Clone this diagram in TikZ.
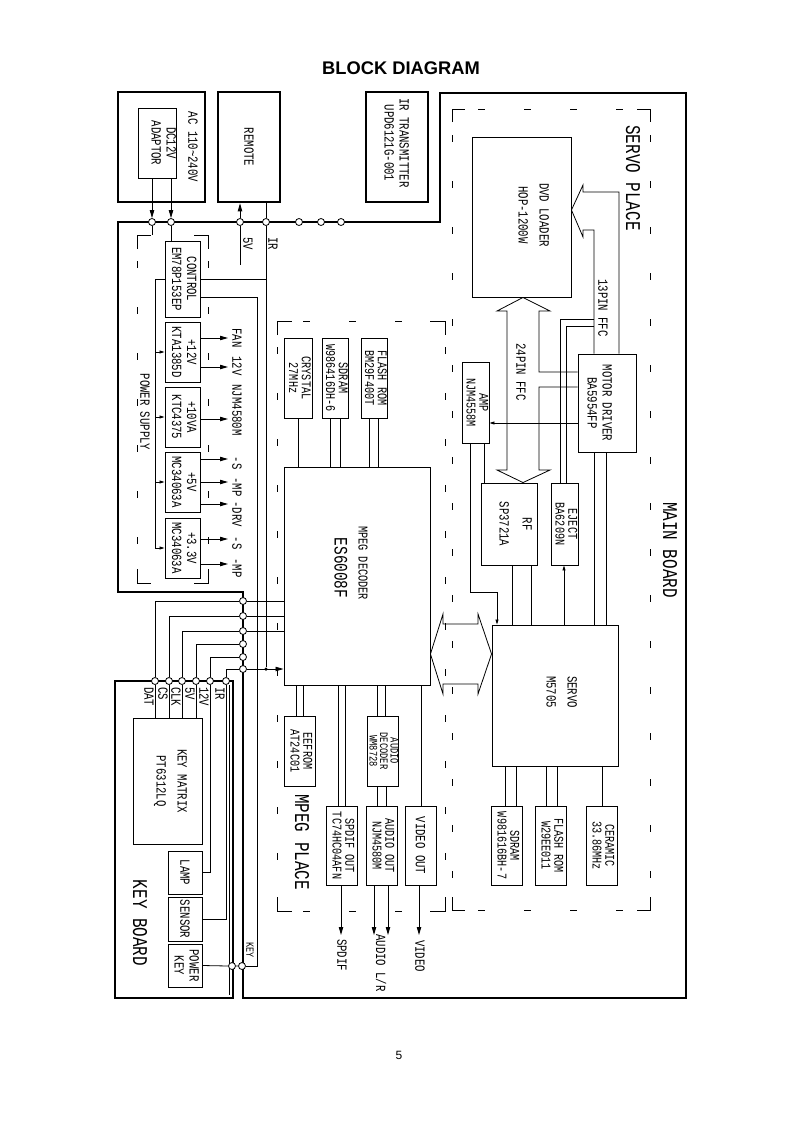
\documentclass[tikz,border=0pt]{standalone}
\usepackage{graphicx}
\usepackage{fontspec}
\setmainfont{Liberation Sans}
\newfontfamily\cad[FakeStretch=0.76]{Liberation Mono}
\usetikzlibrary{arrows.meta}
\newcommand\vtext[1]{\rotatebox{-90}{\begin{tabular}{@{}c@{}}#1\end{tabular}}}
\tikzset{
  >={Triangle[length=8pt,width=4.4pt]},
  every node/.style={font=\cad\fontsize{14}{15}\selectfont,inner sep=0pt},
  wire/.style={line width=0.8pt},
  sig/.style={wire,-{Triangle[length=5pt,width=3pt]}},
  box/.style={draw,line width=0.9pt},
  unit/.style={draw,line width=2.6pt},
  frame/.style={line width=2.8pt},
  place/.style={line width=0.9pt,dash pattern=on 7pt off 39pt,dash phase=20pt},
  jn/.style={circle,draw,fill=white,line width=0.8pt,minimum size=7pt},
  dot/.style={circle,fill,minimum size=3.5pt},
  narrow/.style={font=\cad\fontsize{13.4}{12.5}\selectfont},
  big/.style={font=\cad\fontsize{21}{22}\selectfont},
}
\begin{document}
\begin{tikzpicture}[x=1pt,y=-1pt]
  \useasboundingbox (0,0) rectangle (793,1122);
  \node[font=\bfseries\fontsize{18.3}{20}\selectfont] (title) at (401,68) {BLOCK DIAGRAM};
  \node[font=\fontsize{12}{14}\selectfont] (pageno) at (399,1055) {5};

  % board outlines
  \draw[frame] (440,93) -- (686,93) -- (686,998) -- (243,998) -- (243,592)
    -- (118,592) -- (118,222) -- (440,222) -- cycle;
  \draw[frame] (115,681) rectangle (233,998);
  \draw[wire] (229,685) -- (229,995);

  % dashed places: sides, then corner brackets
  \draw[place] (137,235) -- (137,583) (208,235) -- (208,583);
  \draw[wire] (137,249) |- (151,235) (194,235) -| (208,249)
    (137,569) |- (151,583) (194,583) -| (208,569);
  \draw[place] (277,321) -- (277,911) (445,321) -- (445,911) (277,321) -- (445,321) (277,911) -- (445,911);
  \draw[wire] (277,335) |- (292,321) (430,321) -| (445,335)
    (277,897) |- (292,911) (430,911) -| (445,897);
  \draw[place] (452,109) -- (452,910) (650,109) -- (650,910) (452,109) -- (650,109) (452,910) -- (650,910);
  \draw[wire] (452,122) |- (465,109) (637,109) -| (650,122)
    (452,897) |- (465,910) (637,910) -| (650,897);

  \node (tpower) at (145,412) {\rotatebox{-90}{POWER SUPPLY}};
  \node[big] (tmpeg) at (302,842) {\rotatebox{-90}{MPEG PLACE}};
  \node[big] (tservo) at (633,178) {\rotatebox{-90}{SERVO PLACE}};
  \node[big] (tmain) at (670,550) {\rotatebox{-90}{MAIN BOARD}};
  \node[big] (tkey) at (140,923) {\rotatebox{-90}{KEY BOARD}};

  % outside units
  \node[unit,minimum width=87pt,minimum height=110pt] (ac) at (161.5,147) {};
  \node[box,minimum width=38pt,minimum height=70pt] (adaptor) at (157,143) {};
  \node (tadaptor) at (162,143) {\vtext{DC12V\\ADAPTOR}};
  \node (tac) at (193,147) {\rotatebox{-90}{AC 110\textasciitilde240V}};
  \node[unit,minimum width=62pt,minimum height=110pt] (remote) at (249,147) {};
  \node (tremote) at (remote) {\rotatebox{-90}{REMOTE}};
  \node[unit,minimum width=62pt,minimum height=110pt] (irtx) at (397,147) {};
  \node (tirtx) at (395,143) {\vtext{IR TRANSMITTER\\UPD6121G-001}};

  % power supply
  \node[box,minimum width=35pt,minimum height=76pt] (ctrl) at (182.5,279) {};
  \node (tctrl) at (ctrl) {\vtext{CONTROL\\EM78P153EP}};
  \node[box,minimum width=35pt,minimum height=60pt] (reg12) at (182.5,352) {};
  \node (treg12) at (reg12) {\vtext{+12V\\KTA1385D}};
  \node[box,minimum width=35pt,minimum height=60pt] (reg10) at (182.5,417) {};
  \node (treg10) at (reg10) {\vtext{+10VA\\KTC4375}};
  \node[box,minimum width=35pt,minimum height=60pt] (reg5) at (182.5,482) {};
  \node (treg5) at (reg5) {\vtext{+5V\\MC34063A}};
  \node[box,minimum width=35pt,minimum height=60pt] (reg33) at (182.5,548) {};
  \node (treg33) at (reg33) {\vtext{+3.3V\\MC34063A}};

  % key board
  \node[box,minimum width=69pt,minimum height=126pt] (keymx) at (167.5,781) {};
  \node (tkeymx) at (170,781) {\vtext{KEY MATRIX\\[6pt]PT6312LQ}};
  \node[box,minimum width=34pt,minimum height=43pt] (lamp) at (185,872.5) {};
  \node (tlamp) at (lamp) {\rotatebox{-90}{LAMP}};
  \node[box,minimum width=34pt,minimum height=44pt] (sensor) at (185,919) {};
  \node (tsensor) at (sensor) {\rotatebox{-90}{SENSOR}};
  \node[box,minimum width=34pt,minimum height=43pt] (pwrkey) at (185,965.5) {};
  \node (tpwrkey) at (pwrkey) {\vtext{POWER\\KEY}};

  % mpeg place
  \node[box,minimum width=28pt,minimum height=80pt] (crystal) at (298,378) {};
  \node[narrow] (tcrystal) at (crystal) {\vtext{CRYSTAL\\27MHz}};
  \node[box,minimum width=26pt,minimum height=80pt] (sdram1) at (335,378) {};
  \node[narrow] (tsdram1) at (sdram1) {\vtext{SDRAM\\W986416DH-6}};
  \node[box,minimum width=26pt,minimum height=80pt] (flash1) at (374,378) {};
  \node[narrow] (tflash1) at (flash1) {\vtext{FLASH ROM\\BM29F400T}};
  \node[box,minimum width=146pt,minimum height=218pt] (dec) at (357,576) {};
  \node[font=\cad\fontsize{13.5}{15}\selectfont] (tdec1) at (363,563) {\rotatebox{-90}{MPEG DECODER}};
  \node[font=\cad\fontsize{19}{20}\selectfont] (tdec2) at (341,568) {\rotatebox{-90}{ES6008F}};
  \node[box,minimum width=31pt,minimum height=70pt] (eeprom) at (299.5,751) {};
  \node[narrow] (teeprom) at (eeprom) {\vtext{EEFROM\\AT24C01}};
  \node[box,minimum width=31pt,minimum height=70pt] (adec) at (382.5,751) {};
  \node[font=\cad\fontsize{11.5}{9.5}\selectfont] (tadec) at (adec) {\vtext{AUDIO\\DECODER\\WM8728}};
  \node[box,minimum width=31pt,minimum height=79pt] (spdif) at (341.5,845.5) {};
  \node[narrow] (tspdif) at (spdif) {\vtext{SPDIF OUT\\TC74HC04AFN}};
  \node[box,minimum width=31pt,minimum height=79pt] (aout) at (381.5,845.5) {};
  \node[narrow] (taout) at (aout) {\vtext{AUDIO OUT\\NJM4580M}};
  \node[box,minimum width=31pt,minimum height=79pt] (vout) at (420.5,845.5) {};
  \node (tvout) at (vout) {\rotatebox{-90}{VIDEO OUT}};

  % servo place
  \node[box,minimum width=99pt,minimum height=160pt] (loader) at (521.5,217) {};
  \node (tloader) at (532,215) {\vtext{DVD LOADER\\[6pt]HOP-1200W}};
  \node[box,minimum width=58pt,minimum height=98pt] (mdrv) at (607,403) {};
  \node (tmdrv) at (598,403) {\vtext{MOTOR DRIVER\\BA5954FP}};
  \node[box,minimum width=27pt,minimum height=81pt] (amp) at (475.5,402.5) {};
  \node[narrow] (tamp) at (amp) {\vtext{AMP\\NJM4558M}};
  \node[box,minimum width=56pt,minimum height=82pt] (rf) at (509,524) {};
  \node (trf) at (514,524) {\vtext{RF\\[8pt]SP3721A}};
  \node[box,minimum width=27pt,minimum height=82pt] (eject) at (564.5,524) {};
  \node[narrow] (teject) at (eject) {\vtext{EJECT\\BA6209N}};
  \node[box,minimum width=126pt,minimum height=141pt] (servo) at (555,695.5) {};
  \node (tservobox) at (560,692) {\vtext{SERVO\\[6pt]M5705}};
  \node[box,minimum width=31pt,minimum height=79pt] (sdram2) at (506.5,845.5) {};
  \node[narrow] (tsdram2) at (sdram2) {\vtext{SDRAM\\W981616BH-7}};
  \node[box,minimum width=31pt,minimum height=79pt] (flash2) at (550.5,845.5) {};
  \node[narrow] (tflash2) at (flash2) {\vtext{FLASH ROM\\W29EE011}};
  \node[box,minimum width=31pt,minimum height=79pt] (ceramic) at (601.5,845.5) {};
  \node[narrow] (tceramic) at (ceramic) {\vtext{CERAMIC\\33.86MHz}};

  % connectors on the board edges
  \foreach \n/\x in {1/152,2/171,3/240,4/266,5/299,6/321,7/341}
    \node[jn] (b\n) at (\x,222) {};
  \foreach \i/\x/\y in {1/155/601,2/169/616,3/182/631,4/196/644,5/210/657,6/226/669} {
    \node[jn] (kt\i) at (\x,681) {};
    \node[jn] (mb\i) at (243,\y) {};
  }
  \node[jn] (kp1) at (232,966) {};
  \node[jn] (kp2) at (242,966) {};
  \node[dot] (irj) at (266,669) {};

  % adaptor, remote
  \draw[wire,->] (adaptor.south -| b1) -- (b1.north);
  \draw[wire,->] (adaptor.south -| b2) -- (b2.north);
  \draw[wire] (b1.south) -- (b1 |- 0,235);
  \draw[wire] (b2.south) -- (ctrl.north -| b2);
  \draw[wire,->] (b3.north) -- (remote.south -| b3);
  \draw[wire] (b3.south) -- (b3 |- 0,265);
  \draw[wire] (remote.south -| b4) -- (b4.north);
  \draw[wire] (b4.south) -- (irj);
  \node[anchor=north] (t5v) at (248,237) {\rotatebox{-90}{5V}};
  \node[anchor=north] (tir) at (273,237) {\rotatebox{-90}{IR}};

  % power supply wiring
  \draw[wire] (ctrl.east |- 0,279) -- (b4 |- 0,279);
  \draw[wire] (ctrl.west |- 0,279) -| (155,548);
  \foreach \r in {reg12,reg10,reg5,reg33}
    \draw[sig] (\r.west -| 155,0) -- (\r.west);
  \coordinate (psout) at (228,0);
  \foreach \r/\y in {reg12/338,reg12/367,reg10/419,reg5/459,reg5/482,reg5/504,reg33/539,reg33/564}
    \draw[wire,->] (\r.east |- 0,\y) -- (psout |- 0,\y);
  \foreach \t/\y in {FAN/338,12V/366,NJM4580M/410,-S/463,-MP/487,-DRV/514,-S/543,-MP/568}
    \node (o\y) at (237,\y) {\rotatebox{-90}{\t}};

  % key line
  \draw[wire] (ctrl.east |- 0,297) -| (kp2.east -| 257,0) -- (kp2.east);
  \draw[wire] (pwrkey.east) -- (kp1.west) (kp1.east) -- (kp2.west);
  \node[font=\cad\fontsize{11}{12}\selectfont] (tkeyln) at (250,950) {\rotatebox{-90}{KEY}};

  % key board to mpeg decoder
  \foreach \i in {1,...,6} \draw[wire] (kt\i.north) |- (mb\i.west);
  \foreach \i in {1,2,3} \draw[wire] (mb\i.east) -- (mb\i -| dec.west);
  \draw[wire,->] (mb6.east) -- (mb6 -| dec.west);
  \foreach \i in {1,...,4} \draw[wire] (kt\i.south) -- (kt\i |- keymx.north);
  \draw[wire] (kt5.south) |- (lamp.east);
  \draw[wire] (kt6.south) |- (sensor.east);
  \foreach \t/\x in {DAT/149,CS/163,CLK/176,5V/190,12V/204,IR/220}
    \node[anchor=north] (k\t) at (\x,687) {\rotatebox{-90}{\t}};

  % mpeg decoder
  \draw[wire] (crystal.south) -- (crystal.south |- dec.north);
  \foreach \x in {330,340} \draw[wire] (sdram1.south -| \x,0) -- (dec.north -| \x,0);
  \foreach \x in {369,378} \draw[wire] (flash1.south -| \x,0) -- (dec.north -| \x,0);
  \foreach \x in {296,303} \draw[wire] (dec.south -| \x,0) -- (eeprom.north -| \x,0);
  \foreach \x in {338,345} \draw[wire] (dec.south -| \x,0) -- (spdif.north -| \x,0);
  \foreach \x in {377,385} \draw[wire] (dec.south -| \x,0) -- (adec.north -| \x,0);
  \foreach \x in {377,386} \draw[wire] (adec.south -| \x,0) -- (aout.north -| \x,0);
  \draw[wire] (dec.south -| 421,0) -- (vout.north -| 421,0);
  \coordinate (avout) at (0,935);
  \draw[wire,->] (spdif.south -| 341,0) -- (avout -| 341,0);
  \foreach \x in {374,388} \draw[wire,->] (aout.south -| \x,0) -- (avout -| \x,0);
  \draw[wire,->] (vout.south -| 419,0) -- (avout -| 419,0);
  \node (tspdifo) at (342,955) {\rotatebox{-90}{SPDIF}};
  \node (taudio) at (381,963) {\rotatebox{-90}{AUDIO L/R}};
  \node (tvideo) at (420,956) {\rotatebox{-90}{VIDEO}};

  % ffc cables
  \draw[wire] (mdrv.north -| 619,0) -- (619,192) -- (583,192) -- (583,185)
    -- (loader.east |- 0,210) -- (583,237) -- (583,230) -| (mdrv.north -| 594,0);
  \draw[wire] (594,319) -| (eject.north -| 560,0);
  \draw[wire] (594,326) -| (eject.north -| 566,0);
  \node (t13pin) at (603,308) {\rotatebox{-90}{13PIN FFC}};
  \draw[wire] (mdrv.west |- 0,372) -- (539,372) -- (539,311) -- (550,311)
    -- (loader.south -| 523,0) -- (497,311) -- (507,311) -- (507,470) -- (497,470)
    -- (rf.north -| 523,0) -- (550,470) -- (539,470) -- (539,387) -- (mdrv.west |- 0,387);
  \node (t24pin) at (521,372) {\rotatebox{-90}{24PIN FFC}};

  % bus between decoder and servo
  \draw[wire] (dec.east |- 0,654) -- (443,614) -- (443,624) -- (478,624) -- (478,614)
    -- (servo.west |- 0,654) -- (478,694) -- (478,684) -- (443,684) -- (443,694) -- cycle;

  % servo wiring
  \draw[sig] (mdrv.west |- 0,423) -- (amp.east |- 0,423);
  \draw[wire] (amp.south -| 484,0) -- (rf.north -| 484,0);
  \draw[sig] (amp.south -| 470,0) |- (497,592) -- (servo.north -| 497,0);
  \foreach \x in {512,531} \draw[wire] (rf.south -| \x,0) -- (servo.north -| \x,0);
  \draw[sig] (servo.north -| 564,0) -- (eject.south -| 564,0);
  \foreach \x in {594,606} \draw[wire] (mdrv.south -| \x,0) -- (servo.north -| \x,0);
  \foreach \x in {505,516} \draw[wire] (servo.south -| \x,0) -- (sdram2.north -| \x,0);
  \foreach \x in {546,557} \draw[wire] (servo.south -| \x,0) -- (flash2.north -| \x,0);
  \draw[wire] (servo.south -| 602,0) -- (ceramic.north -| 602,0);
\end{tikzpicture}
\end{document}
